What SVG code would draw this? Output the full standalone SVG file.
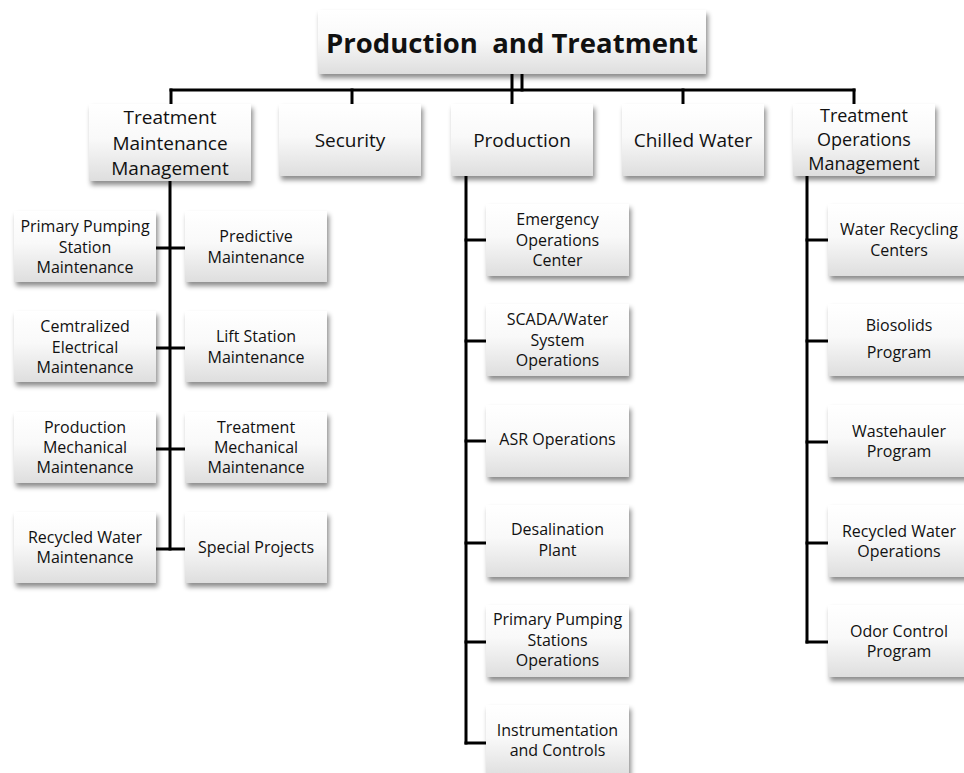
<svg xmlns="http://www.w3.org/2000/svg" width="964" height="773" viewBox="0 0 964 773">
<style>
.box{fill:url(#g);filter:url(#sh)}
.t{font-family:"Open Sans","Liberation Sans",sans-serif;fill:#111;text-anchor:middle}
.l1{font-size:19px}
.l1s{font-size:18px}
.l2{font-size:16px}
.title{font-size:27.5px;font-weight:bold;white-space:pre}
.c line{stroke:#000;stroke-width:3;stroke-linecap:square}
</style>
<defs>
<linearGradient id="g" x1="0" y1="0" x2="0" y2="1">
<stop offset="0" stop-color="#ffffff"/>
<stop offset="0.45" stop-color="#f9f9f9"/>
<stop offset="1" stop-color="#dedede"/>
</linearGradient>
<filter id="sh" x="-10%" y="-10%" width="130%" height="140%">
<feDropShadow dx="2" dy="4" stdDeviation="2.5" flood-color="#000" flood-opacity="0.45"/>
</filter>
</defs>
<rect width="964" height="773" fill="#fff"/>
<g class="c" id="connectors">
<line x1="171" y1="90" x2="854" y2="90"/>
<line x1="171" y1="90" x2="171" y2="104"/>
<line x1="352" y1="90" x2="352" y2="104"/>
<line x1="512" y1="74" x2="512" y2="104"/>
<line x1="522" y1="74" x2="522" y2="90"/>
<line x1="683" y1="90" x2="683" y2="104"/>
<line x1="854" y1="90" x2="854" y2="104"/>
<line x1="170" y1="181" x2="170" y2="549"/>
<line x1="156" y1="248" x2="185" y2="248"/>
<line x1="156" y1="348" x2="185" y2="348"/>
<line x1="156" y1="449" x2="185" y2="449"/>
<line x1="156" y1="549" x2="185" y2="549"/>
<line x1="466" y1="176" x2="466" y2="743"/>
<line x1="466" y1="240" x2="486" y2="240"/>
<line x1="466" y1="341" x2="486" y2="341"/>
<line x1="466" y1="441" x2="486" y2="441"/>
<line x1="466" y1="543" x2="486" y2="543"/>
<line x1="466" y1="642" x2="486" y2="642"/>
<line x1="466" y1="743" x2="486" y2="743"/>
<line x1="807" y1="176" x2="807" y2="642"/>
<line x1="807" y1="240" x2="828" y2="240"/>
<line x1="807" y1="341" x2="828" y2="341"/>
<line x1="807" y1="442" x2="828" y2="442"/>
<line x1="807" y1="543" x2="828" y2="543"/>
<line x1="807" y1="642" x2="828" y2="642"/>
</g>
<g id="root"><rect class="box" x="318" y="10" width="388" height="64"/><text class="t title" x="512" y="53">Production  and Treatment</text></g>
<g id="tmm"><rect class="box" x="89" y="104" width="162" height="77"/><text class="t l1" x="170" y="124">Treatment</text><text class="t l1" x="170" y="150">Maintenance</text><text class="t l1" x="170" y="175">Management</text></g>
<g id="security"><rect class="box" x="279" y="104" width="142" height="72"/><text class="t l1" x="350" y="147">Security</text></g>
<g id="production"><rect class="box" x="451" y="104" width="142" height="72"/><text class="t l1" x="522" y="147">Production</text></g>
<g id="chilled"><rect class="box" x="622" y="104" width="142" height="72"/><text class="t l1" x="693" y="147">Chilled Water</text></g>
<g id="tom"><rect class="box" x="793" y="104" width="142" height="72"/><text class="t l1s" x="864" y="121.5">Treatment</text><text class="t l1s" x="864" y="145.5">Operations</text><text class="t l1s" x="864" y="169.5">Management</text></g>

<g id="ppsm"><rect class="box" x="14" y="211" width="142" height="71"/><text class="t l2" x="85" y="232">Primary Pumping</text><text class="t l2" x="85" y="252.5">Station</text><text class="t l2" x="85" y="273">Maintenance</text></g>
<g id="pm"><rect class="box" x="185" y="211" width="142" height="71"/><text class="t l2" x="256" y="242">Predictive</text><text class="t l2" x="256" y="262.5">Maintenance</text></g>
<g id="cem"><rect class="box" x="14" y="311" width="142" height="71"/><text class="t l2" x="85" y="332">Cemtralized</text><text class="t l2" x="85" y="352.5">Electrical</text><text class="t l2" x="85" y="373">Maintenance</text></g>
<g id="lsm"><rect class="box" x="185" y="311" width="142" height="71"/><text class="t l2" x="256" y="342">Lift Station</text><text class="t l2" x="256" y="362.5">Maintenance</text></g>
<g id="pmm"><rect class="box" x="14" y="412" width="142" height="71"/><text class="t l2" x="85" y="432.5">Production</text><text class="t l2" x="85" y="453">Mechanical</text><text class="t l2" x="85" y="473">Maintenance</text></g>
<g id="tmech"><rect class="box" x="185" y="412" width="142" height="71"/><text class="t l2" x="256" y="432.5">Treatment</text><text class="t l2" x="256" y="453">Mechanical</text><text class="t l2" x="256" y="473">Maintenance</text></g>
<g id="rwm"><rect class="box" x="14" y="512" width="142" height="71"/><text class="t l2" x="85" y="542.5">Recycled Water</text><text class="t l2" x="85" y="563">Maintenance</text></g>
<g id="sp"><rect class="box" x="185" y="512" width="142" height="71"/><text class="t l2" x="256" y="553">Special Projects</text></g>

<g id="eoc"><rect class="box" x="486" y="204" width="143" height="72"/><text class="t l2" x="557.5" y="225">Emergency</text><text class="t l2" x="557.5" y="245.5">Operations</text><text class="t l2" x="557.5" y="266">Center</text></g>
<g id="scada"><rect class="box" x="486" y="304" width="143" height="72"/><text class="t l2" x="557.5" y="325">SCADA/Water</text><text class="t l2" x="557.5" y="345.5">System</text><text class="t l2" x="557.5" y="366">Operations</text></g>
<g id="asr"><rect class="box" x="486" y="405" width="143" height="72"/><text class="t l2" x="557.5" y="445">ASR Operations</text></g>
<g id="desal"><rect class="box" x="486" y="505" width="143" height="72"/><text class="t l2" x="557.5" y="535">Desalination</text><text class="t l2" x="557.5" y="556">Plant</text></g>
<g id="ppso"><rect class="box" x="486" y="605" width="143" height="72"/><text class="t l2" x="557.5" y="625">Primary Pumping</text><text class="t l2" x="557.5" y="646">Stations</text><text class="t l2" x="557.5" y="666">Operations</text></g>
<g id="ic"><rect class="box" x="486" y="705" width="143" height="72"/><text class="t l2" x="557.5" y="736">Instrumentation</text><text class="t l2" x="557.5" y="756">and Controls</text></g>

<g id="wrc"><rect class="box" x="828" y="204" width="142" height="72"/><text class="t l2" x="899" y="235">Water Recycling</text><text class="t l2" x="899" y="255.5">Centers</text></g>
<g id="bio"><rect class="box" x="828" y="304" width="142" height="72"/><text class="t l2" x="899" y="331">Biosolids</text><text class="t l2" x="899" y="358">Program</text></g>
<g id="waste"><rect class="box" x="828" y="405" width="142" height="72"/><text class="t l2" x="899" y="436.5">Wastehauler</text><text class="t l2" x="899" y="457">Program</text></g>
<g id="rwo"><rect class="box" x="828" y="505" width="142" height="72"/><text class="t l2" x="899" y="536.5">Recycled Water</text><text class="t l2" x="899" y="557">Operations</text></g>
<g id="odor"><rect class="box" x="828" y="605" width="142" height="72"/><text class="t l2" x="899" y="636.5">Odor Control</text><text class="t l2" x="899" y="657">Program</text></g>
</svg>
